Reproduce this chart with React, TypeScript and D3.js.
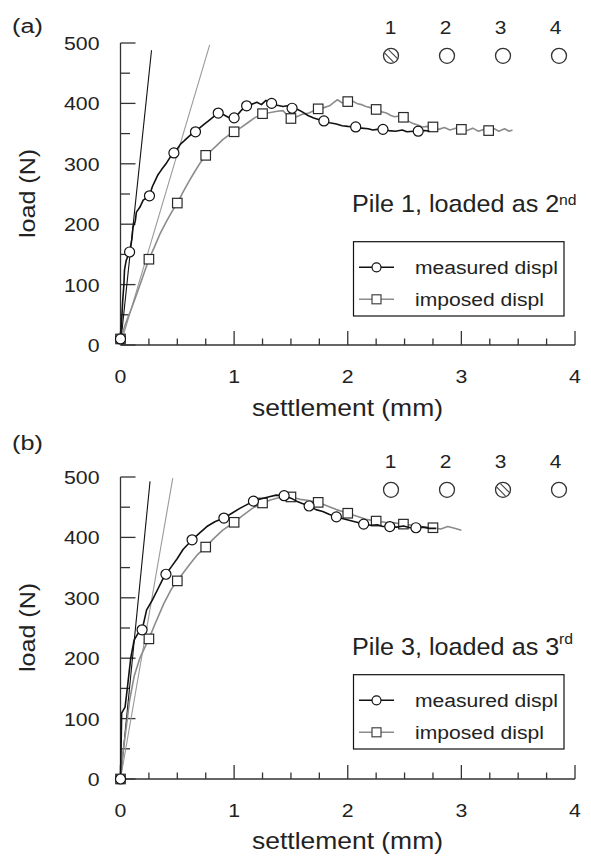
import React from "react";
import * as d3 from "d3";

// ---------- data (settlement mm, load N) ----------
const xTicks = [0, 1, 2, 3, 4];
const yTicks = [0, 100, 200, 300, 400, 500];
const pileNumbers = ["1", "2", "3", "4"];

// Panel (a): Pile 1, loaded as 2nd
const aMeasured: [number, number][] = [
  [0, 10], [0.01, 40], [0.02, 75], [0.03, 100], [0.035, 124], [0.05, 140], [0.08, 154], [0.1, 175],
  [0.11, 195], [0.13, 205], [0.14, 220], [0.17, 228], [0.2, 240], [0.255, 247], [0.28, 262], [0.3, 270],
  [0.33, 282], [0.36, 290], [0.4, 300], [0.44, 312], [0.47, 318], [0.5, 325], [0.53, 333], [0.56, 338],
  [0.6, 345], [0.63, 350], [0.66, 353], [0.7, 360], [0.74, 366], [0.78, 372], [0.82, 378], [0.86, 384],
  [0.9, 382], [0.94, 378], [0.97, 375], [1.0, 376], [1.03, 381], [1.06, 388], [1.11, 396], [1.15, 398],
  [1.2, 402], [1.24, 398], [1.28, 405], [1.33, 400], [1.38, 397], [1.43, 395], [1.47, 396], [1.51, 392],
  [1.56, 390], [1.6, 386], [1.65, 380], [1.7, 376], [1.75, 373], [1.79, 371], [1.84, 368], [1.9, 366],
  [1.95, 363], [2.0, 362], [2.07, 361], [2.12, 359], [2.18, 358], [2.22, 356], [2.26, 357], [2.31, 357],
  [2.36, 355], [2.42, 354], [2.48, 356], [2.52, 353], [2.58, 354], [2.62, 354], [2.68, 355], [2.72, 354],
];
const aImposed: [number, number][] = [
  [0, 10], [0.05, 38], [0.1, 62], [0.15, 88], [0.2, 115], [0.25, 142], [0.3, 163], [0.35, 185],
  [0.4, 203], [0.45, 220], [0.5, 235], [0.55, 253], [0.6, 270], [0.65, 286], [0.7, 301], [0.75, 314],
  [0.8, 322], [0.85, 331], [0.9, 340], [0.95, 347], [1.0, 353], [1.06, 360], [1.12, 368], [1.18, 376],
  [1.25, 383], [1.32, 385], [1.38, 387], [1.43, 388], [1.47, 380], [1.5, 375], [1.55, 378], [1.6, 382],
  [1.66, 384], [1.7, 388], [1.74, 391], [1.79, 393], [1.84, 396], [1.88, 402], [1.91, 406], [1.95, 401],
  [2.0, 403], [2.04, 404], [2.08, 400], [2.12, 398], [2.16, 395], [2.2, 393], [2.25, 390], [2.3, 386],
  [2.34, 384], [2.38, 380], [2.41, 378], [2.45, 379], [2.49, 377], [2.53, 371], [2.57, 367], [2.62, 364],
  [2.66, 361], [2.7, 362], [2.75, 361], [2.8, 357], [2.85, 360], [2.9, 356], [2.95, 359], [3.0, 357],
  [3.05, 355], [3.1, 359], [3.15, 354], [3.2, 357], [3.24, 355], [3.29, 358], [3.33, 354], [3.38, 358],
  [3.42, 354], [3.45, 356],
];
const aCircles: [number, number][] = [
  [0, 10], [0.08, 154], [0.255, 247], [0.47, 318], [0.66, 353], [0.86, 384], [1.0, 376], [1.11, 396],
  [1.33, 400], [1.51, 392], [1.79, 371], [2.07, 361], [2.31, 357], [2.62, 354],
];
const aSquares: [number, number][] = [
  [0, 10], [0.25, 142], [0.5, 235], [0.75, 314], [1.0, 353], [1.25, 383], [1.5, 375], [1.74, 391],
  [2.0, 403], [2.25, 390], [2.49, 377], [2.75, 361], [3.0, 357], [3.24, 355],
];
const aStiffMeasured: [number, number][] = [[0, 0], [0.273, 488]];
const aStiffImposed: [number, number][] = [[0, 0], [0.785, 497]];

// Panel (b): Pile 3, loaded as 3rd
const bMeasured: [number, number][] = [
  [0, 0], [0.005, 50], [0.01, 109], [0.04, 119], [0.06, 150], [0.09, 200], [0.12, 230], [0.15, 240],
  [0.19, 247], [0.23, 280], [0.28, 296], [0.33, 315], [0.37, 330], [0.4, 339], [0.45, 352], [0.5, 365],
  [0.55, 380], [0.6, 390], [0.63, 396], [0.7, 408], [0.76, 418], [0.83, 426], [0.91, 432], [0.98, 440],
  [1.05, 448], [1.1, 453], [1.17, 460], [1.24, 464], [1.3, 467], [1.37, 470], [1.44, 469], [1.5, 465],
  [1.55, 460], [1.6, 456], [1.66, 452], [1.72, 446], [1.78, 443], [1.84, 438], [1.9, 434], [1.96, 431],
  [2.02, 428], [2.08, 425], [2.14, 422], [2.2, 420], [2.26, 421], [2.31, 418], [2.37, 418], [2.43, 417],
  [2.49, 419], [2.55, 416], [2.6, 416], [2.66, 417], [2.72, 415], [2.78, 415],
];
const bImposed: [number, number][] = [
  [0, 0], [0.02, 40], [0.04, 70], [0.08, 130], [0.12, 170], [0.17, 200], [0.25, 232], [0.3, 255],
  [0.38, 290], [0.45, 315], [0.5, 328], [0.56, 343], [0.62, 358], [0.68, 372], [0.75, 384], [0.82, 398],
  [0.9, 412], [1.0, 425], [1.08, 437], [1.16, 448], [1.25, 457], [1.32, 462], [1.4, 466], [1.5, 467],
  [1.58, 463], [1.66, 461], [1.74, 458], [1.82, 452], [1.9, 446], [2.0, 440], [2.08, 435], [2.16, 430],
  [2.25, 427], [2.33, 425], [2.41, 424], [2.49, 422], [2.57, 420], [2.65, 418], [2.75, 416], [2.82, 414],
  [2.88, 418], [2.94, 415], [3.0, 412],
];
const bCircles: [number, number][] = [
  [0, 0], [0.19, 247], [0.4, 339], [0.63, 396], [0.91, 432], [1.17, 460], [1.44, 469], [1.66, 452],
  [1.9, 434], [2.14, 422], [2.37, 418], [2.6, 416],
];
const bSquares: [number, number][] = [
  [0, 0], [0.25, 232], [0.5, 328], [0.75, 384], [1.0, 425], [1.25, 457], [1.5, 467], [1.74, 458],
  [2.0, 440], [2.25, 427], [2.49, 422], [2.75, 416],
];
const bStiffMeasured: [number, number][] = [[0, 0], [0.26, 493]];
const bStiffImposed: [number, number][] = [[0, 0], [0.46, 498]];

// ---------- style ----------
const FONT = "'Liberation Sans', Arial, Helvetica, sans-serif";
const TXT = "#222";
const AX = "#333";
const GRAY = "#8c8c8c";

function T(props: any) {
  const { x, y, size, sx = 1.15, anchor = "start", rot = false, children, fill = TXT } = props;
  return (
    <text
      transform={`translate(${x},${y})${rot ? " rotate(-90)" : ""} scale(${sx},1)`}
      fontSize={size}
      fontFamily={FONT}
      textAnchor={anchor}
      fill={fill}
    >
      {children}
    </text>
  );
}

function Panel(props: any) {
  const {
    off, measured, imposed, circles, squares, stiffM, stiffI, label, labelY, hatched,
    titleMain, titleSup, titleY, supY, legendOff, axisTitleY,
  } = props;
  const x = d3.scaleLinear().domain([0, 4]).range([120.5, 575]);
  const y = d3.scaleLinear().domain([0, 500]).range([345 + off, 43 + off]);
  const line = d3.line<[number, number]>().x((d) => x(d[0])).y((d) => y(d[1]));
  const minorX = d3.range(0, 4.001, 0.25).filter((v) => Math.abs(v - Math.round(v)) > 1e-6);
  const minorY = d3.range(50, 500, 100);
  const sq = 9.5;
  const r = 5;
  const pileX = (i: number) => 391 + i * 56;
  const pileNumX = (i: number) => 390.5 + i * 55;
  const pr = 7.5;
  const hatchD = [-2.6, 2.6];
  const lg = legendOff;
  return (
    <g>
      {/* panel label */}
      <T x={12} y={labelY} size={21} sx={1.2}>{label}</T>

      {/* axes */}
      <line x1={x(0)} x2={x(4)} y1={y(0)} y2={y(0)} stroke={AX} strokeWidth={1.3} />
      <line x1={x(0)} x2={x(0)} y1={y(0)} y2={y(500)} stroke={AX} strokeWidth={1.3} />
      {xTicks.map((t) => (
        <line key={"xt" + t} x1={x(t)} x2={x(t)} y1={y(0)} y2={y(0) - 14} stroke={AX} strokeWidth={1.3} />
      ))}
      {minorX.map((t) => (
        <line key={"xm" + t} x1={x(t)} x2={x(t)} y1={y(0)} y2={y(0) - 6.5} stroke={AX} strokeWidth={1.3} />
      ))}
      {yTicks.map((t) => (
        <line key={"yt" + t} x1={x(0)} x2={x(0) + 15} y1={y(t)} y2={y(t)} stroke={AX} strokeWidth={1.3} />
      ))}
      {minorY.map((t) => (
        <line key={"ym" + t} x1={x(0)} x2={x(0) + 9.5} y1={y(t)} y2={y(t)} stroke={AX} strokeWidth={1.3} />
      ))}
      {xTicks.map((t) => (
        <T key={"xl" + t} x={x(t)} y={383 + off} size={18.5} anchor="middle">{String(t)}</T>
      ))}
      {yTicks.map((t) => (
        <T key={"yl" + t} x={99.5} y={y(t) + 7} size={18.5} anchor="end">{String(t)}</T>
      ))}
      <T x={347.5} y={axisTitleY} size={23} anchor="middle">settlement (mm)</T>
      <T x={35} y={193.5 + off} size={22} anchor="middle" rot sx={1.14}>load (N)</T>

      {/* stiffness lines */}
      <path d={line(stiffM) || ""} fill="none" stroke="#111" strokeWidth={1.1} />
      <path d={line(stiffI) || ""} fill="none" stroke="#9a9a9a" strokeWidth={1.1} />

      {/* imposed displacement */}
      <path d={line(imposed) || ""} fill="none" stroke={GRAY} strokeWidth={1.6} strokeLinejoin="round" />
      {squares.map((d: [number, number], i: number) => (
        <rect key={"s" + i} x={x(d[0]) - sq / 2} y={y(d[1]) - sq / 2} width={sq} height={sq}
          fill="#fff" stroke="#2a2a2a" strokeWidth={1.2} />
      ))}

      {/* measured displacement */}
      <path d={line(measured) || ""} fill="none" stroke="#111" strokeWidth={1.6} strokeLinejoin="round" />
      {circles.map((d: [number, number], i: number) => (
        <circle key={"c" + i} cx={x(d[0])} cy={y(d[1])} r={r} fill="#fff" stroke="#111" strokeWidth={1.2} />
      ))}

      {/* pile layout icons */}
      {pileNumbers.map((p, i) => (
        <T key={"pn" + p} x={pileNumX(i)} y={34 + off} size={19} sx={1.1} anchor="middle">{p}</T>
      ))}
      {pileNumbers.map((p, i) => (
        <g key={"pc" + p}>
          <circle cx={pileX(i)} cy={55.8 + off} r={pr} fill="#fff" stroke={AX} strokeWidth={1.3} />
          {i === hatched &&
            hatchD.map((dd, j) => {
              const half = Math.sqrt(pr * pr - dd * dd) - 0.8;
              const cx = pileX(i) + dd / Math.SQRT2;
              const cy = 55.8 + off - dd / Math.SQRT2;
              const k = half / Math.SQRT2;
              return (
                <line key={"h" + j} x1={cx - k} y1={cy - k} x2={cx + k} y2={cy + k} stroke="#444" strokeWidth={1.1} />
              );
            })}
        </g>
      ))}

      {/* title */}
      <T x={352} y={titleY} size={24} sx={1.05}>{titleMain}</T>
      <T x={559} y={supY} size={15} sx={1.05}>{titleSup}</T>

      {/* legend */}
      <rect x={353.5} y={241.7 + lg} width={210.5} height={74.3} fill="#fff" stroke="#111" strokeWidth={1.2} />
      <line x1={359} x2={394} y1={267.3 + lg} y2={267.3 + lg} stroke="#111" strokeWidth={1.5} />
      <circle cx={376.5} cy={267.3 + lg} r={4.5} fill="#fff" stroke="#111" strokeWidth={1.2} />
      <T x={415} y={274 + lg} size={19} sx={1.11}>measured displ</T>
      <line x1={359} x2={394} y1={299.3 + lg} y2={299.3 + lg} stroke={GRAY} strokeWidth={1.5} />
      <rect x={376.5 - 4.5} y={299.3 + lg - 4.5} width={9} height={9} fill="#fff" stroke="#444" strokeWidth={1.2} />
      <T x={415} y={306 + lg} size={19} sx={1.11}>imposed displ</T>
    </g>
  );
}

export default function App() {
  return (
    <svg width={591} height={858} style={{ position: "absolute", left: 0, top: 0, background: "#fff" }}>
      <rect x={0} y={0} width={591} height={858} fill="#fff" />
      <Panel off={0} measured={aMeasured} imposed={aImposed} circles={aCircles} squares={aSquares}
        stiffM={aStiffMeasured} stiffI={aStiffImposed} label="(a)" labelY={33} hatched={0}
        titleMain="Pile 1, loaded as 2" titleSup="nd" titleY={212.3} supY={205} legendOff={0} axisTitleY={416} />
      <Panel off={434} measured={bMeasured} imposed={bImposed} circles={bCircles} squares={bSquares}
        stiffM={bStiffMeasured} stiffI={bStiffImposed} label="(b)" labelY={449.5} hatched={2}
        titleMain="Pile 3, loaded as 3" titleSup="rd" titleY={655} supY={644} legendOff={433} axisTitleY={849} />
    </svg>
  );
}
